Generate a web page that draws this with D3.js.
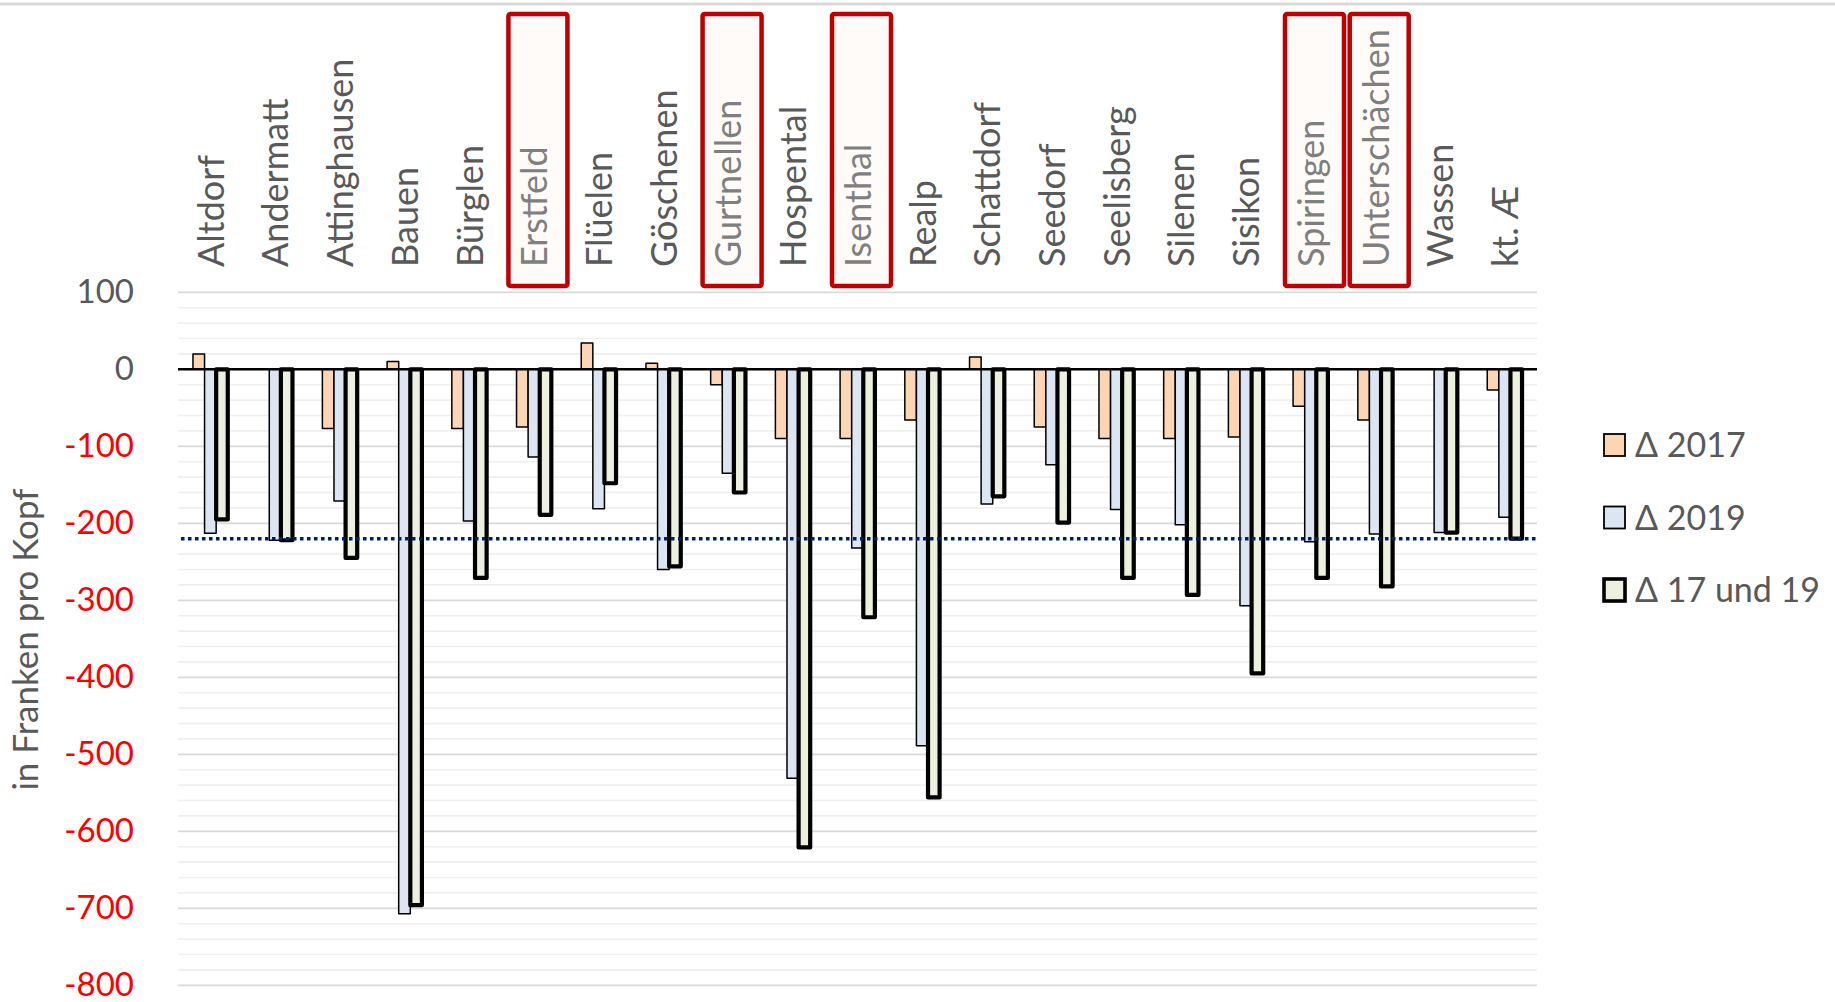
<!DOCTYPE html>
<html>
<head>
<meta charset="utf-8">
<script src="https://cdn.jsdelivr.net/npm/d3@7"></script>
<style>
  html, body { margin: 0; padding: 0; background: #ffffff; }
  svg { display: block; font-family: Lato, "Open Sans", "DejaVu Sans", sans-serif; }
</style>
</head>
<body>
<svg id="chart" width="1835" height="1002"></svg>
<script>
// Gemeinden des Kantons Uri plus kantonaler Durchschnitt
const municipalities = ["Altdorf", "Andermatt", "Attinghausen", "Bauen", "Bürglen", "Erstfeld", "Flüelen",
  "Göschenen", "Gurtnellen", "Hospental", "Isenthal", "Realp", "Schattdorf", "Seedorf", "Seelisberg",
  "Silenen", "Sisikon", "Spiringen", "Unterschächen", "Wassen", "kt. Æ"];

// Veränderung in Franken pro Kopf
const delta2017 = [20, 0, -77, 10, -77, -75, 34, 8, -20, -90, -90, -66, 16, -75, -90, -90, -88, -48, -66, 0, -27];
const delta2019 = [-213, -222, -171, -707, -197, -114, -181, -260, -135, -531, -232, -489, -175, -124, -182, -202, -307, -224, -214, -212, -192];
const delta1719 = [-195, -222, -245, -696, -271, -189, -148, -256, -160, -621, -322, -556, -165, -199, -271, -293, -395, -271, -282, -212, -220];

const seriesNames = ["Δ 2017", "Δ 2019", "Δ 17 und 19"];
const highlighted = ["Erstfeld", "Gurtnellen", "Isenthal", "Spiringen", "Unterschächen"];
const referenceLevel = -220;
const yTicks = [100, 0, -100, -200, -300, -400, -500, -600, -700, -800];

const series = [
  { name: seriesNames[0], values: delta2017, fill: "#fcd5b5", stroke: 1.5, bold: false },
  { name: seriesNames[1], values: delta2019, fill: "#dce6f2", stroke: 1.5, bold: false },
  { name: seriesNames[2], values: delta1719, fill: "#ebf1de", stroke: 4.2, bold: true }
];

const svg = d3.select("#chart");
const plot = { left: 178, right: 1537, top: 292.3, bottom: 985.3 };

const x0 = d3.scaleBand().domain(municipalities).range([plot.left, plot.right]).padding(0);
const clusterHalf = 17.4;
const x1 = d3.scaleBand().domain(seriesNames).range([-clusterHalf, clusterHalf]).padding(0);
const y = d3.scaleLinear().domain([-800, 100]).range([plot.bottom, plot.top]);
const cx = d => x0(d) + x0.bandwidth() / 2;

// frame line along the top
svg.append("line").attr("x1", 0).attr("x2", 1835).attr("y1", 4).attr("y2", 4)
  .attr("stroke", "#d9d9d9").attr("stroke-width", 3);

// gridlines: minor every 20, major every 100
const minorTicks = d3.range(-800, 101, 20).filter(v => v % 100 !== 0);
svg.append("g").selectAll("line").data(minorTicks).join("line")
  .attr("x1", plot.left).attr("x2", plot.right)
  .attr("y1", d => y(d)).attr("y2", d => y(d))
  .attr("stroke", "#efefef").attr("stroke-width", 1.6);
svg.append("g").selectAll("line").data(yTicks.filter(v => v !== 0)).join("line")
  .attr("x1", plot.left).attr("x2", plot.right)
  .attr("y1", d => y(d)).attr("y2", d => y(d))
  .attr("stroke", "#d9d9d9").attr("stroke-width", 1.8);

// y axis labels
svg.append("g").selectAll("text").data(yTicks).join("text")
  .attr("x", 134).attr("y", d => y(d)).attr("dy", "0.33em")
  .attr("text-anchor", "end").attr("font-size", 33)
  .attr("fill", d => d < 0 ? "#ff0000" : "#595959")
  .text(d => d);

// axis title
svg.append("text")
  .attr("transform", `translate(38,${(486 + 793) / 2}) rotate(-90)`)
  .attr("text-anchor", "middle").attr("font-size", 35).attr("fill", "#595959")
  .text("in Franken pro Kopf");

// bars
const barGroups = svg.append("g").selectAll("g").data(series).join("g");
barGroups.selectAll("rect").data(s => s.values.map((v, i) => ({ s, v, name: municipalities[i] }))).join("rect")
  .attr("x", d => cx(d.name) + x1(d.s.name))
  .attr("width", x1.bandwidth())
  .attr("y", d => y(Math.max(0, d.v)))
  .attr("height", d => Math.abs(y(d.v) - y(0)))
  .attr("fill", d => d.s.fill)
  .attr("stroke", "#000")
  .attr("stroke-width", d => d.s.stroke)
  .attr("stroke-linejoin", "round");

// zero line
svg.append("line").attr("x1", plot.left).attr("x2", plot.right)
  .attr("y1", y(0)).attr("y2", y(0)).attr("stroke", "#000").attr("stroke-width", 2.6);

// reference level (cantonal average)
svg.append("line").attr("x1", plot.left + 3).attr("x2", plot.right)
  .attr("y1", y(referenceLevel)).attr("y2", y(referenceLevel))
  .attr("stroke", "#002060").attr("stroke-width", 3.4).attr("stroke-dasharray", "3.5,3.5");

// highlight boxes behind selected municipality names
svg.append("g").selectAll("rect").data(highlighted).join("rect")
  .attr("x", d => cx(d) - 25.5).attr("width", 59)
  .attr("y", 14).attr("height", 272).attr("rx", 2)
  .attr("fill", "#fffbf8").attr("stroke", "#c00000").attr("stroke-width", 4.5);

// category labels
svg.append("g").selectAll("text").data(municipalities).join("text")
  .attr("transform", d => `translate(${cx(d)},267) rotate(-90)`)
  .attr("dy", "0.37em").attr("font-size", 36)
  .attr("fill", d => highlighted.includes(d) ? "#7f7f7f" : "#595959")
  .text(d => d);

// legend
const legend = svg.append("g").selectAll("g").data(series).join("g")
  .attr("transform", (d, i) => `translate(1604,${445 + i * 72.5})`);
legend.append("rect").attr("x", 0).attr("y", -11).attr("width", 21).attr("height", 22)
  .attr("fill", d => d.fill).attr("stroke", "#000")
  .attr("stroke-width", d => d.bold ? 3.6 : 1.8);
legend.append("text").attr("x", 31).attr("dy", "0.36em").attr("font-size", 34)
  .attr("fill", "#595959").text(d => d.name);
</script>
</body>
</html>
